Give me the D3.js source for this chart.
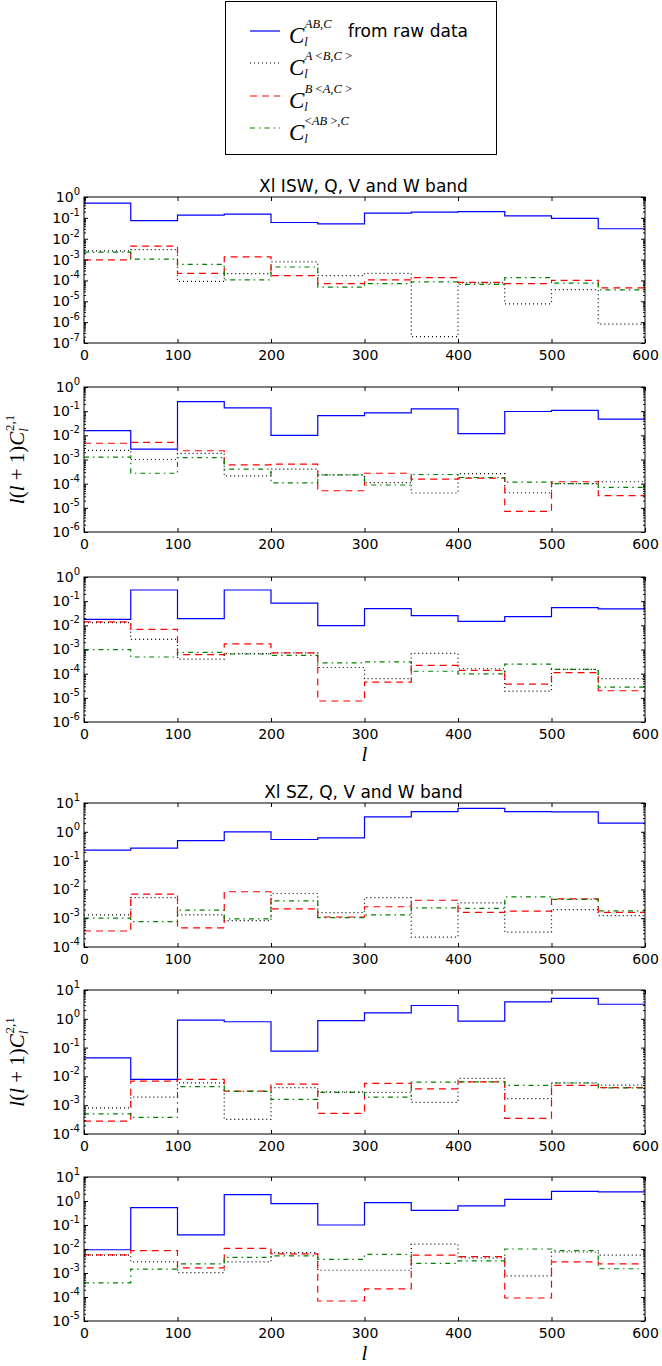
<!DOCTYPE html>
<html>
<head>
<meta charset="utf-8">
<script src="https://cdn.jsdelivr.net/npm/d3@7"></script>
<style>
  body { margin: 0; background: #fff; }
  svg { display: block; }
</style>
</head>
<body>
<script>
// bin starts in l, each bin is 50 wide, last bin ends at 600
const binStarts = [0, 50, 100, 150, 200, 250, 300, 350, 400, 450, 500, 550]
const lMax = 600

// Xl ISW, Q, V and W band
const isw1Raw = [0.51, 0.074, 0.135, 0.15, 0.06, 0.051, 0.17, 0.19, 0.2, 0.125, 0.095, 0.03]
const isw1A   = [2.6e-3, 3e-3, 9e-5, 2.1e-4, 7.7e-4, 1.7e-4, 2.2e-4, 2e-7, 7.7e-5, 7.5e-6, 3.6e-5, 8e-7]
const isw1B   = [9.6e-4, 4.4e-3, 2.2e-4, 1.35e-3, 1.7e-4, 7e-5, 1.07e-4, 1.35e-4, 8e-5, 7e-5, 1e-4, 4.4e-5]
const isw1AB  = [2.3e-3, 1.04e-3, 5.9e-4, 1.07e-4, 4.4e-4, 4.8e-5, 7e-5, 8.6e-5, 6.4e-5, 1.35e-4, 7.4e-5, 3.5e-5]

const isw2Raw = [0.0156, 2.7e-3, 0.25, 0.138, 0.01, 0.066, 0.085, 0.125, 0.0118, 0.097, 0.107, 0.047]
const isw2A   = [2.4e-3, 1e-3, 1.8e-3, 2.1e-4, 4e-4, 2.3e-4, 1.1e-4, 4.1e-5, 2.6e-4, 4.2e-5, 1e-4, 1.2e-4]
const isw2B   = [4.7e-3, 5.1e-3, 2.3e-3, 6e-4, 6.4e-4, 5.1e-5, 2.7e-4, 1.55e-4, 1.7e-4, 7.2e-6, 1.2e-4, 3.2e-5]
const isw2AB  = [1.26e-3, 2.7e-4, 1.2e-3, 4e-4, 1.07e-4, 2.3e-4, 8.8e-5, 2.4e-4, 1.8e-4, 1.15e-4, 1e-4, 7e-5]

const isw3Raw = [0.0178, 0.29, 0.019, 0.29, 0.083, 9.7e-3, 0.049, 0.025, 0.0147, 0.023, 0.054, 0.048]
const isw3A   = [0.013, 2.6e-3, 4e-4, 6.7e-4, 7.2e-4, 1.8e-4, 6.2e-5, 6.9e-4, 1.6e-4, 1.9e-5, 1.5e-4, 6.2e-5]
const isw3B   = [0.014, 6.8e-3, 6.1e-4, 1.7e-3, 7.2e-4, 7.4e-6, 4.5e-5, 2.2e-4, 1.37e-4, 3.7e-5, 1.1e-4, 1.96e-5]
const isw3AB  = [9.8e-4, 4.9e-4, 7.6e-4, 6.5e-4, 5.7e-4, 2.8e-4, 3.1e-4, 1.26e-4, 9.8e-5, 2.5e-4, 1.5e-4, 2.8e-5]

// Xl SZ, Q, V and W band
const sz1Raw = [0.23, 0.27, 0.49, 1.0, 0.54, 0.62, 3.3, 5.0, 6.5, 5.0, 4.9, 2.0]
const sz1A   = [1.3e-3, 5.2e-3, 1.3e-3, 8.3e-4, 7.2e-3, 1.55e-3, 5.2e-3, 2.2e-4, 3.4e-3, 3.3e-4, 2e-3, 1.23e-3]
const sz1B   = [3.6e-4, 6.9e-3, 4.6e-4, 8.3e-3, 2.1e-3, 1.1e-3, 2.5e-3, 4.2e-3, 1.6e-3, 1.75e-3, 4.7e-3, 1.6e-3]
const sz1AB  = [1e-3, 7.6e-4, 1.9e-3, 9.5e-4, 4e-3, 1.05e-3, 1.3e-3, 2.3e-3, 2.2e-3, 5.5e-3, 4.5e-3, 1.8e-3]

const sz2Raw = [0.044, 7.9e-3, 0.9, 0.79, 0.076, 0.87, 1.6, 2.9, 0.83, 3.9, 5.1, 3.2]
const sz2A   = [8.1e-4, 1.9e-3, 6e-3, 3.2e-4, 4.1e-3, 2.9e-3, 2.8e-3, 1.26e-3, 8.6e-3, 1.7e-3, 6e-3, 5e-3]
const sz2B   = [2.8e-4, 6.9e-3, 7.9e-3, 3.1e-3, 5.4e-3, 5.2e-4, 5.7e-3, 3.7e-3, 6.5e-3, 3.5e-4, 4.9e-3, 4.1e-3]
const sz2AB  = [5e-4, 3.8e-4, 4.4e-3, 3e-3, 1.6e-3, 2.8e-3, 1.9e-3, 6.3e-3, 6.5e-3, 4.9e-3, 5.9e-3, 4e-3]

const sz3Raw = [9.3e-3, 0.53, 0.039, 1.85, 0.77, 0.1, 0.85, 0.41, 0.63, 1.17, 2.5, 2.4]
const sz3A   = [5.6e-3, 2.9e-3, 1.03e-3, 2.9e-3, 7.1e-3, 1.3e-3, 1.3e-3, 0.016, 4.3e-3, 7.6e-4, 7.5e-3, 5.6e-3]
const sz3B   = [5.7e-3, 8.5e-3, 1.65e-3, 0.0107, 6.3e-3, 6.8e-5, 2.2e-4, 5.6e-3, 4.8e-3, 9.1e-5, 2.9e-3, 2.4e-3]
const sz3AB  = [3.9e-4, 1.45e-3, 2.4e-3, 4.5e-3, 5.2e-3, 3.7e-3, 6e-3, 2.5e-3, 3.2e-3, 0.01, 8.5e-3, 1.5e-3]

const xTicks = [0, 100, 200, 300, 400, 500, 600]
const titles = ["Xl ISW, Q, V and W band", "Xl SZ, Q, V and W band"]

const width = 662
const height = 1366
const left = 84, right = 645

const styles = [
  { color: "#0000ff", dash: null },
  { color: "#000000", dash: "1,3" },
  { color: "#ff0000", dash: "7,5" },
  { color: "#008000", dash: "5,4,1.5,4" }
]

const panels = [
  { top: 197, h: 146, lo: -7, hi: 0, series: [isw1Raw, isw1A, isw1B, isw1AB], title: titles[0] },
  { top: 387, h: 145, lo: -6, hi: 0, series: [isw2Raw, isw2A, isw2B, isw2AB], ylab: true },
  { top: 577, h: 145, lo: -6, hi: 0, series: [isw3Raw, isw3A, isw3B, isw3AB], xlab: true },
  { top: 803, h: 144, lo: -4, hi: 1, series: [sz1Raw, sz1A, sz1B, sz1AB], title: titles[1] },
  { top: 990, h: 144, lo: -4, hi: 1, series: [sz2Raw, sz2A, sz2B, sz2AB], ylab: true },
  { top: 1177, h: 144, lo: -5, hi: 1, series: [sz3Raw, sz3A, sz3B, sz3AB], xlab: true }
]

const svg = d3.select("body").append("svg")
  .attr("width", width)
  .attr("height", height)
  .attr("font-family", "DejaVu Sans, sans-serif")

const mathFont = "Liberation Serif, DejaVu Serif, serif"

// legend
const legend = svg.append("g")
legend.append("rect")
  .attr("x", 225.5).attr("y", 1.5)
  .attr("width", 271).attr("height", 153)
  .attr("fill", "#fff").attr("stroke", "#000")

const legendSup = [
  [["AB,C", true]],
  [["A", true], [" <", false], ["B,C", true], [" >", false]],
  [["B", true], [" <", false], ["A,C", true], [" >", false]],
  [["<", false], ["AB", true], [" >", false], [",C", true]]
]
const legendRows = [31, 63, 96, 128]

legendRows.forEach((ly, i) => {
  legend.append("line")
    .attr("x1", 250).attr("x2", 280)
    .attr("y1", ly).attr("y2", ly)
    .attr("stroke", styles[i].color)
    .attr("stroke-width", 1.2)
    .attr("stroke-dasharray", styles[i].dash)
  const t = legend.append("text")
    .attr("x", 289).attr("y", ly + 12)
    .attr("font-family", mathFont)
  t.append("tspan").attr("font-size", 23).attr("font-style", "italic").text("C")
  t.append("tspan").attr("font-size", 12.5).attr("font-style", "italic").attr("dy", 3).text("l")
  legendSup[i].forEach(([s, it], j) => {
    const sp = t.append("tspan").attr("font-size", 12.5)
      .attr("font-style", it ? "italic" : "normal").text(s)
    if (j === 0) sp.attr("dx", -3).attr("dy", -18)
  })
  if (i === 0) {
    legend.append("text")
      .attr("x", 348).attr("y", ly + 6)
      .attr("font-size", 17)
      .text("from raw data")
  }
})

const x = d3.scaleLinear().domain([0, lMax]).range([left, right])

const line = (y) => d3.line()
  .x(d => x(d[0]))
  .y(d => y(d[1]))
  .curve(d3.curveStepAfter)

function expLabels(sel) {
  sel.selectAll(".tick text").each(function (d) {
    const t = d3.select(this)
    t.text(null)
    t.append("tspan").text("10")
    t.append("tspan").attr("font-size", 10).attr("dy", -7)
      .text(Math.round(Math.log10(d)))
  })
}

panels.forEach(p => {
  const y = d3.scaleLog()
    .domain([Math.pow(10, p.lo), Math.pow(10, p.hi)])
    .range([p.top + p.h, p.top])
  const majors = d3.range(p.lo, p.hi + 1).map(e => Math.pow(10, e))
  const minors = []
  d3.range(p.lo, p.hi).forEach(e => {
    for (let m = 2; m <= 9; m++) minors.push(m * Math.pow(10, e))
  })
  const g = svg.append("g")

  // data
  p.series.forEach((vals, i) => {
    const pts = binStarts.map((l, k) => [l, vals[k]])
    pts.push([lMax, vals[vals.length - 1]])
    g.append("path")
      .attr("d", line(y)(pts))
      .attr("fill", "none")
      .attr("stroke", styles[i].color)
      .attr("stroke-width", 1.2)
      .attr("stroke-dasharray", styles[i].dash)
  })

  // axes, ticks pointing inside
  g.append("g").attr("transform", `translate(${left},0)`)
    .call(d3.axisLeft(y).tickValues(majors).tickSize(-4).tickPadding(4).tickFormat(""))
    .call(expLabels)
    .attr("font-size", 14).attr("font-family", null)
  g.append("g").attr("transform", `translate(${left},0)`)
    .call(d3.axisLeft(y).tickValues(minors).tickSize(-2).tickFormat(""))
  g.append("g").attr("transform", `translate(${right},0)`)
    .call(d3.axisRight(y).tickValues(majors).tickSize(-4).tickFormat(""))
  g.append("g").attr("transform", `translate(${right},0)`)
    .call(d3.axisRight(y).tickValues(minors).tickSize(-2).tickFormat(""))

  g.append("g").attr("transform", `translate(0,${p.top + p.h})`)
    .call(d3.axisBottom(x).tickValues(xTicks).tickSize(-4).tickPadding(7))
    .attr("font-size", 14).attr("font-family", null)
  g.append("g").attr("transform", `translate(0,${p.top})`)
    .call(d3.axisTop(x).tickValues(xTicks).tickSize(-4).tickFormat(""))

  g.selectAll(".domain").remove()
  g.selectAll(".tick line").attr("stroke", "#000")
  g.selectAll(".tick text").attr("fill", "#000")

  g.append("rect")
    .attr("x", left).attr("y", p.top)
    .attr("width", right - left).attr("height", p.h)
    .attr("fill", "none").attr("stroke", "#000").attr("stroke-width", 1)

  if (p.title) {
    g.append("text")
      .attr("x", (left + right) / 2 - 1).attr("y", p.top - 5)
      .attr("text-anchor", "middle")
      .attr("font-size", 17)
      .text(p.title)
  }

  if (p.ylab) {
    const t = g.append("text")
      .attr("transform", `translate(24,${p.top + p.h / 2}) rotate(-90)`)
      .attr("text-anchor", "middle")
      .attr("font-family", mathFont)
      .attr("font-size", 21)
    t.append("tspan").attr("font-style", "italic").text("l")
    t.append("tspan").text("(")
    t.append("tspan").attr("font-style", "italic").text("l")
    t.append("tspan").text(" + 1)")
    t.append("tspan").attr("font-style", "italic").text("C")
    t.append("tspan").attr("font-style", "italic").attr("font-size", 13).attr("dy", 4).text("l")
    t.append("tspan").attr("font-size", 13).attr("dx", -3).attr("dy", -14).text("2,1")
  }

  if (p.xlab) {
    g.append("text")
      .attr("x", (left + right) / 2).attr("y", p.top + p.h + 39)
      .attr("text-anchor", "middle")
      .attr("font-family", mathFont)
      .attr("font-style", "italic")
      .attr("font-size", 21)
      .text("l")
  }
})
</script>
</body>
</html>
